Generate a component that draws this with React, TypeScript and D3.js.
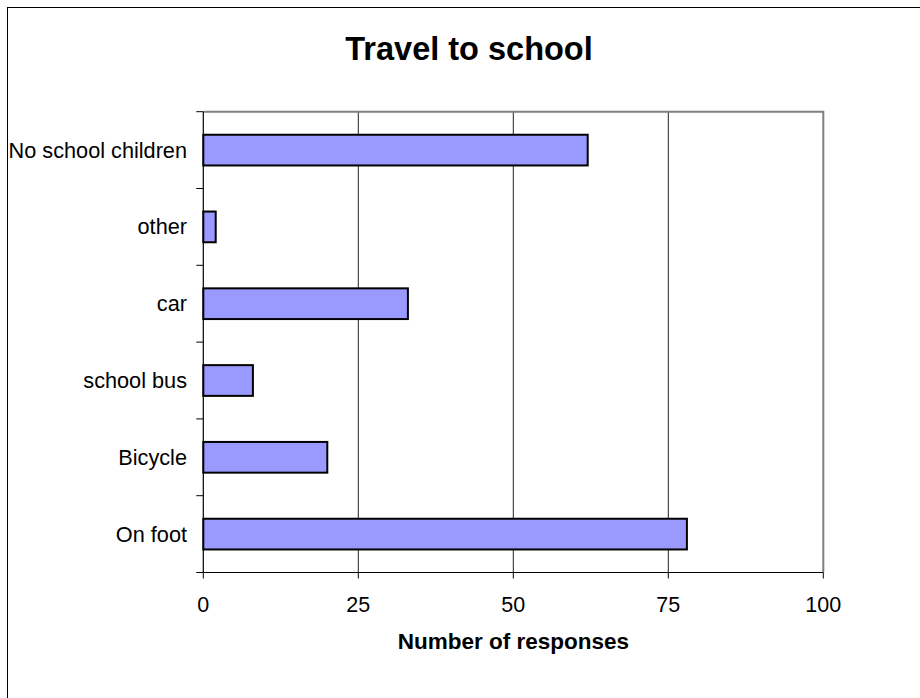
import React from "react";
import * as d3 from "d3";

const categories = ["No school children", "other", "car", "school bus", "Bicycle", "On foot"];
const responses = [62, 2, 33, 8, 20, 78];
const xTicks = [0, 25, 50, 75, 100];
const chartTitle = "Travel to school";
const xTitle = "Number of responses";

export default function App() {
  const W = 920;
  const H = 698;
  const left = 203.3;
  const right = 823.3;
  const top = 111.7;
  const bottom = 572.5;

  const x = d3.scaleLinear().domain([0, 100]).range([left, right]);
  const y = d3
    .scaleBand<string>()
    .domain(categories)
    .range([top, bottom])
    .paddingInner(0.6)
    .paddingOuter(0.3);
  const step = y.step();
  const font = "'Liberation Sans', Arial, sans-serif";

  return (
    <svg
      width={W}
      height={H}
      style={{ position: "absolute", left: 0, top: 0, display: "block", background: "#fff" }}
    >
      <rect x={7.5} y={7.5} width={960} height={760} fill="#fff" stroke="#000" strokeWidth={1} />
      <text
        x={469}
        y={59.5}
        textAnchor="middle"
        fontFamily={font}
        fontWeight="bold"
        fontSize={32.5}
        fill="#000"
      >
        {chartTitle}
      </text>

      {/* gridlines */}
      {xTicks
        .filter((t) => t > 0 && t < 100)
        .map((t) => (
          <line key={"g" + t} x1={x(t)} x2={x(t)} y1={top} y2={bottom} stroke="#222" strokeWidth={1} />
        ))}

      {/* plot area top/right border */}
      <path
        d={`M${left},${top}H${right}V${bottom}`}
        fill="none"
        stroke="#808080"
        strokeWidth={2}
      />

      {/* bars */}
      {categories.map((c, i) => (
        <rect
          key={c}
          x={x(0)}
          y={y(c)}
          width={x(responses[i]) - x(0)}
          height={y.bandwidth()}
          fill="#9999FF"
          stroke="#000"
          strokeWidth={2}
        />
      ))}

      {/* y axis */}
      <line x1={left} x2={left} y1={top} y2={bottom} stroke="#000" strokeWidth={1.2} />
      {d3.range(categories.length + 1).map((k) => (
        <line
          key={"yt" + k}
          x1={left - 7}
          x2={left}
          y1={top + k * step}
          y2={top + k * step}
          stroke="#000"
          strokeWidth={1}
        />
      ))}
      {categories.map((c) => (
        <text
          key={"yl" + c}
          x={187}
          y={(y(c) as number) + y.bandwidth() / 2}
          dy="0.35em"
          textAnchor="end"
          fontFamily={font}
          fontSize={21.7}
          fill="#000"
        >
          {c}
        </text>
      ))}

      {/* x axis */}
      <line x1={left} x2={right} y1={bottom} y2={bottom} stroke="#000" strokeWidth={1.2} />
      {xTicks.map((t) => (
        <g key={"xt" + t}>
          <line x1={x(t)} x2={x(t)} y1={bottom} y2={bottom + 6} stroke="#000" strokeWidth={1} />
          <text
            x={x(t)}
            y={611.5}
            textAnchor="middle"
            fontFamily={font}
            fontSize={21.5}
            fill="#000"
          >
            {t}
          </text>
        </g>
      ))}
      <text
        x={513.3}
        y={649}
        textAnchor="middle"
        fontFamily={font}
        fontWeight="bold"
        fontSize={22.5}
        fill="#000"
      >
        {xTitle}
      </text>
    </svg>
  );
}
